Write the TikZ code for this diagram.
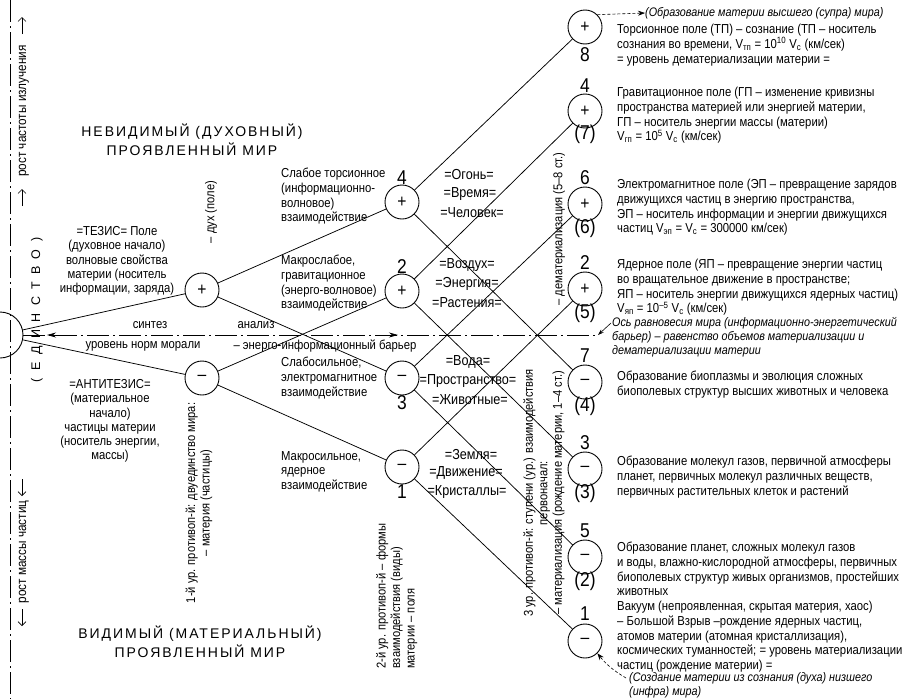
\documentclass[tikz,border=0pt]{standalone}
\usepackage{fontspec}
\setmainfont{Liberation Sans}[FakeStretch=0.87]
\newfontfamily\titlefont{Liberation Sans}[LetterSpace=14]
\newfontfamily\spacedfont{Liberation Sans}[LetterSpace=60]
\usetikzlibrary{arrows.meta}
\tikzset{
  circ/.style={circle, draw, line width=0.9pt, minimum size=34pt, inner sep=0pt, font=\fontsize{18}{18}\selectfont},
  bigcirc/.style={circle, draw, line width=0.9pt, minimum size=46pt, inner sep=0pt},
  conn/.style={line width=0.75pt},
  lbl/.style={font=\fontsize{20}{20}\selectfont, inner sep=0pt},
  txt/.style={font=\fontsize{13}{14.7}\selectfont, align=left, inner sep=0pt, anchor=north west},
  ctxt/.style={font=\fontsize{13}{14.2}\selectfont, align=center, inner sep=0pt},
  eq/.style={font=\fontsize{14.5}{14}\selectfont, inner sep=0pt},
  vtxt/.style={font=\fontsize{12.8}{14.5}\selectfont, rotate=90, inner sep=0pt},
  axisline/.style={dash pattern=on 22pt off 4pt on 2pt off 4pt, line width=0.7pt},
  ttl/.style={font=\titlefont\fontsize{14}{19}\selectfont, align=center, inner sep=0pt},
  harrow/.style={line width=0.7pt, -{Stealth[length=9pt,width=5pt]}},
  varrow/.style={line width=0.7pt, -{Straight Barb[length=4pt,width=8pt]}},
  dasharrow/.style={line width=0.6pt, dash pattern=on 3pt off 2pt, -{Stealth[length=7pt,width=5pt]}},
  itxt/.style={txt, font=\itshape\fontsize{12.4}{14.3}\selectfont},
}
\begin{document}
\begin{tikzpicture}[x=1pt,y=-1pt]
\useasboundingbox (0,0) rectangle (907,699);

% left edge dash-dot line and arrows
\coordinate (lt) at (10,0);
\coordinate (lb) at (10,699);
\draw[axisline] (lt) -- (lb);
\coordinate (ua1) at (22,34); \coordinate (ua1e) at (22,17);
\coordinate (ua2) at (22,206); \coordinate (ua2e) at (22,189);
\draw[varrow] (ua1) -- (ua1e);
\draw[varrow] (ua2) -- (ua2e);
\node[vtxt, font=\fontsize{13.5}{14}\selectfont] (rost1) at (24,111) {рост частоты излучения};
\coordinate (da1) at (22,479); \coordinate (da1e) at (22,496);
\coordinate (da2) at (22,609); \coordinate (da2e) at (22,626);
\draw[varrow] (da1) -- (da1e);
\draw[varrow] (da2) -- (da2e);
\node[vtxt, font=\fontsize{13.5}{14}\selectfont] (rost2) at (24,552) {рост массы частиц};

% nodes
\node[bigcirc] (E) at (0,335) {};
\node[vtxt, font=\spacedfont\fontsize{12.5}{14}\selectfont] (edin) at (37,310) {(ЕДИНСТВО)};

\node[circ] (Ap) at (202,290) {+};
\node[circ] (Am) at (202,378) {–};

\node[circ] (B4) at (402,202) {+};
\node[circ] (B2) at (402,291) {+};
\node[circ] (B3) at (402,378) {–};
\node[circ] (B1) at (402,467) {–};

\node[circ] (C8) at (585,27) {+};
\node[circ] (C7) at (585,111) {+};
\node[circ] (C6) at (585,204) {+};
\node[circ] (C5) at (585,289) {+};
\node[circ] (C4) at (585,382) {–};
\node[circ] (C3) at (585,469) {–};
\node[circ] (C2) at (585,557) {–};
\node[circ] (C1) at (585,641) {–};

% connectors
\draw[conn] (E) -- (Ap);
\draw[conn] (E) -- (Am);
\draw[conn] (Ap) -- (B4);
\draw[conn] (Ap) -- (B3);
\draw[conn] (Am) -- (B2);
\draw[conn] (Am) -- (B1);
\draw[conn] (B4) -- (C8);
\draw[conn] (B4) -- (C4);
\draw[conn] (B2) -- (C7);
\draw[conn] (B2) -- (C3);
\draw[conn] (B3) -- (C6);
\draw[conn] (B3) -- (C2);
\draw[conn] (B1) -- (C5);
\draw[conn] (B1) -- (C1);

% axis
\coordinate (axR) at (598,335);
\draw[axisline] (E.east) -- (axR);
\coordinate (alA) at (64,335); \coordinate (alB) at (47,335);
\draw[harrow] (alA) -- (alB);
\coordinate (arA) at (381,335); \coordinate (arB) at (398,335);
\draw[harrow] (arA) -- (arB);

\node[ctxt] (sint) at (150,325) {синтез};
\node[ctxt] (anal) at (256,325) {анализ};
\node[ctxt] (norm) at (143,346) {уровень норм морали};
\node[ctxt] (barr) at (325,346) {– энерго-информационный барьер};

% titles
\node[ttl] (t1) at (192,140) {НЕВИДИМЫЙ (ДУХОВНЫЙ)\\ПРОЯВЛЕННЫЙ МИР};
\node[ttl] (t2) at (200,642) {ВИДИМЫЙ (МАТЕРИАЛЬНЫЙ)\\ПРОЯВЛЕННЫЙ МИР};

% left text blocks
\node[ctxt] (tezis) at (117,261) {=ТЕЗИС= Поле\\(духовное начало)\\волновые свойства\\материи (носитель\\информации, заряда)};
\node[ctxt] (antitezis) at (110,421) {=АНТИТЕЗИС=\\(материальное\\начало)\\частицы материи\\(носитель энергии,\\массы)};

% middle labels
\node[txt] (w1) at (281,168) {Слабое торсионное\\(информационно-\\волновое)\\взаимодействие};
\node[txt] (w2) at (281,255) {Макрослабое,\\гравитационное\\(энерго-волновое)\\взаимодействие};
\node[txt] (w3) at (281,357) {Слабосильное,\\электромагнитное\\взаимодействие};
\node[txt] (w4) at (281,451) {Макросильное,\\ядерное\\взаимодействие};

% vertical texts
\node[vtxt] (dukh) at (211,212) {– дух (поле)};
\node[vtxt, align=center] (ur1) at (199,503) {1-й ур. противоп-й: двуединство мира:\\– материя (частицы)};
\node[vtxt, align=left, anchor=north west] (ur2) at (376,669) {2-й ур. противоп-й – формы\\взаимодействия (виды)\\материи – поля};
\node[vtxt, align=center] (ur3) at (544,493) {3 ур. противоп-й: ступени (ур.) взаимодействия\\первоначал:\\– материализация (рождение материи, 1–4 ст.)};
\node[vtxt] (demat) at (559,229) {– дематериализация (5–8 ст.)};

% middle level labels
\node[lbl] (n4) at (402,178) {4};
\node[lbl] (n2) at (402,267) {2};
\node[lbl] (n3) at (402,403) {3};
\node[lbl] (n1) at (402,492) {1};

% equals labels
\node[eq] (e1) at (469,175) {=Огонь=};
\node[eq] (e2) at (470,194) {=Время=};
\node[eq] (e3) at (472,213) {=Человек=};
\node[eq] (e4) at (467,265) {=Воздух=};
\node[eq] (e5) at (467,284) {=Энергия=};
\node[eq] (e6) at (467,303) {=Растения=};
\node[eq] (e7) at (468,362) {=Вода=};
\node[eq] (e8) at (468,381) {=Пространство=};
\node[eq] (e9) at (470,400) {=Животные=};
\node[eq] (e10) at (471,455) {=Земля=};
\node[eq] (e11) at (466,473) {=Движение=};
\node[eq] (e12) at (467,492) {=Кристаллы=};

% right column labels
\node[lbl] (r8) at (585,55) {8};
\node[lbl] (r4) at (585,86) {4};
\node[lbl] (r7p) at (585,134) {(7)};
\node[lbl] (r6) at (585,178) {6};
\node[lbl] (r6p) at (585,228) {(6)};
\node[lbl] (r2) at (585,263) {2};
\node[lbl] (r5p) at (585,313) {(5)};
\node[lbl] (r7) at (585,356) {7};
\node[lbl] (r4p) at (585,406) {(4)};
\node[lbl] (r3) at (585,443) {3};
\node[lbl] (r3p) at (585,493) {(3)};
\node[lbl] (r5) at (585,531) {5};
\node[lbl] (r2p) at (585,581) {(2)};
\node[lbl] (r1) at (585,614) {1};

% right text blocks
\node[itxt, anchor=west] (supra) at (645,13) {(Образование материи высшего (супра) мира)};
\draw[dasharrow] (C8.north east) -- (supra.west);

\node[txt] (tC8) at (617,24) {Торсионное поле (ТП) – сознание (ТП – носитель\\сознания во времени, V\textsubscript{тп} = 10\textsuperscript{10} V\textsubscript{с} (км/сек)\\= уровень дематериализации материи =};
\node[txt] (tC7) at (617,87) {Гравитационное поле (ГП – изменение кривизны\\пространства материей или энергией материи,\\ГП – носитель энергии массы (материи)\\V\textsubscript{гп} = 10\textsuperscript{5} V\textsubscript{с} (км/сек)};
\node[txt] (tC6) at (617,179) {Электромагнитное поле (ЭП – превращение зарядов\\движущихся частиц в энергию пространства,\\ЭП – носитель информации и энергии движущихся\\частиц V\textsubscript{эп} = V\textsubscript{с} = 300000 км/сек)};
\node[txt] (tC5) at (617,259) {Ядерное поле (ЯП – превращение энергии частиц\\во вращательное движение в пространстве;\\ЯП – носитель энергии движущихся ядерных частиц)\\V\textsubscript{яп} = 10\textsuperscript{–5} V\textsubscript{с} (км/сек)};
\node[itxt] (ost) at (612,317) {Ось равновесия мира (информационно-энергетический\\барьер) – равенство объемов материализации и\\дематериализации материи};
\coordinate (ostS) at (611,323);
\draw[line width=0.6pt, -{Stealth[length=6pt,width=4pt]}] (ostS) -- (axR);

\node[txt] (tC4) at (617,371) {Образование биоплазмы и эволюция сложных\\биополевых структур высших животных и человека};
\node[txt] (tC3) at (617,456) {Образование молекул газов, первичной атмосферы\\планет, первичных молекул различных веществ,\\первичных растительных клеток и растений};
\node[txt] (tC2) at (617,542) {Образование планет, сложных молекул газов\\и воды, влажно-кислородной атмосферы, первичных\\биополевых структур живых организмов, простейших\\животных};
\node[txt] (tC1) at (617,601) {Вакуум (непроявленная, скрытая материя, хаос)\\– Большой Взрыв –рождение ядерных частиц,\\атомов материи (атомная кристаллизация),\\космических туманностей; = уровень материализации\\частиц (рождение материи) =};
\node[itxt] (infra) at (629,672) {(Создание материи из сознания (духа) низшего\\(инфра) мира)};
\coordinate (infraS) at (626,678);
\draw[dasharrow] (infraS) to[bend left=10] (C1.south east);
\end{tikzpicture}
\end{document}
